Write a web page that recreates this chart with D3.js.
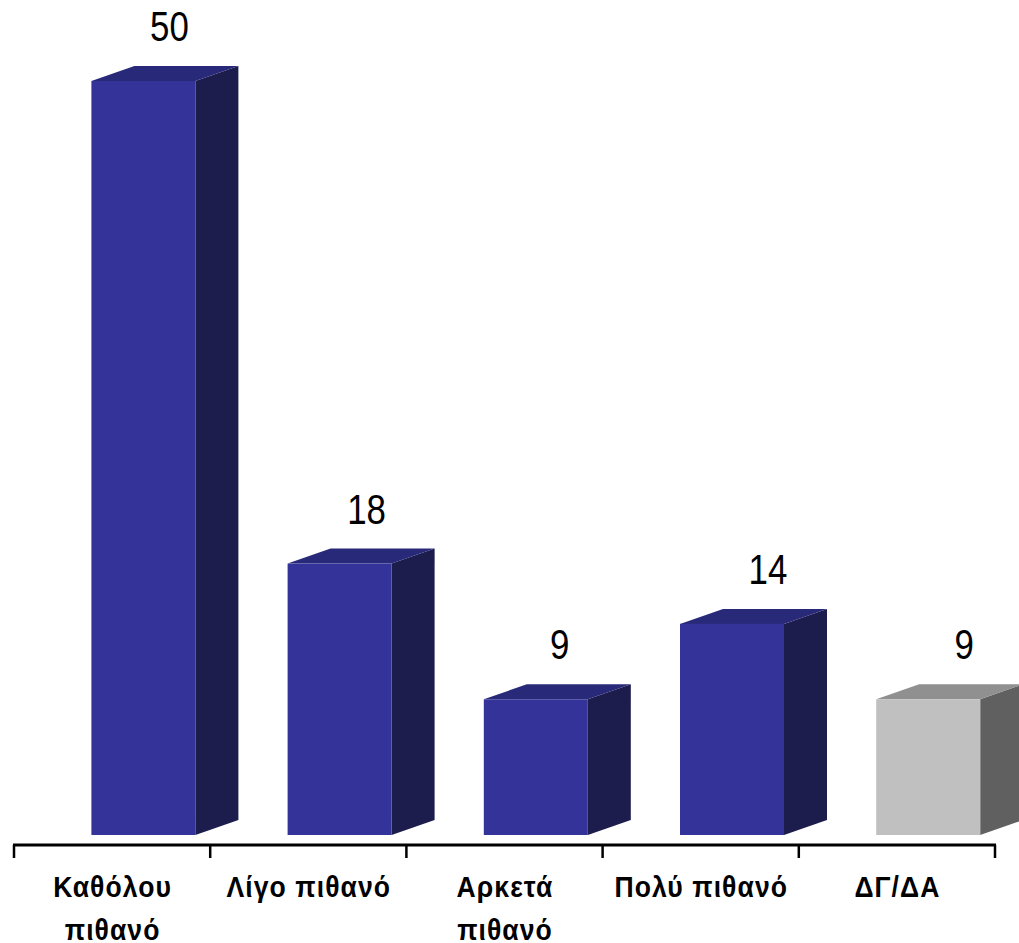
<!doctype html>
<html>
<head>
  <meta charset="utf-8">
  <title>Bar chart</title>
  <script src="https://d3js.org/d3.v7.min.js"></script>
  <style>
    body { margin:0;background:#fff;overflow:hidden; }
    svg { display:block; }
    .cat { font-family:"Liberation Sans",sans-serif;font-weight:bold;font-size:30px;letter-spacing:1.2px;text-anchor:middle;fill:#000; }
    .val { font-family:"Liberation Sans",sans-serif;font-size:42px;text-anchor:middle;fill:#000; }
  </style>
</head>
<body>
  <script>
    // chart data
    var categories = [["Καθόλου","πιθανό"],["Λίγο πιθανό"],["Αρκετά","πιθανό"],["Πολύ πιθανό"],["ΔΓ/ΔΑ"]];
    var values = [50, 18, 9, 14, 9];
    var isNoAnswer = [false, false, false, false, true];

    var width = 1019, height = 943;
    var baseY = 835, axisY = 845, tickLen = 13;
    var depthX = 43, depthY = 15;
    var labelShift = [26, 27, 24, 36, 36]; // value labels sit right of the bar centre, unevenly

    var blue = {front:"#333399", top:"#29297a", side:"#1c1c4d"};
    var grey = {front:"#c0c0c0", top:"#909090", side:"#606060"};

    var svg = d3.select("body").append("svg")
      .attr("width", width)
      .attr("height", height);

    var x = d3.scaleBand()
      .domain(d3.range(values.length))
      .range([14, 995])
      .paddingInner(0);

    var y = d3.scaleLinear()
      .domain([0, 50])
      .range([baseY, 81]);

    var barW = 104;
    var barX = function(i) { return x(i) + 77.4; };

    var bars = svg.selectAll("g.bar")
      .data(values)
      .enter()
      .append("g")
      .attr("class", "bar");

    // side face
    bars.append("path")
      .attr("fill", function(d, i) { return (isNoAnswer[i] ? grey : blue).side; })
      .attr("d", function(d, i) {
        var r = barX(i) + barW, t = y(d);
        return "M" + r + "," + t + "L" + (r + depthX) + "," + (t - depthY) +
          "L" + (r + depthX) + "," + (baseY - depthY) + "L" + r + "," + baseY + "Z";
      });

    // top face
    bars.append("path")
      .attr("fill", function(d, i) { return (isNoAnswer[i] ? grey : blue).top; })
      .attr("d", function(d, i) {
        var l = barX(i), t = y(d);
        return "M" + l + "," + t + "L" + (l + depthX) + "," + (t - depthY) +
          "L" + (l + barW + depthX) + "," + (t - depthY) + "L" + (l + barW) + "," + t + "Z";
      });

    // front face
    bars.append("rect")
      .attr("x", function(d, i) { return barX(i); })
      .attr("y", function(d) { return y(d); })
      .attr("width", barW)
      .attr("height", function(d) { return baseY - y(d); })
      .attr("fill", function(d, i) { return (isNoAnswer[i] ? grey : blue).front; });

    // value labels, squeezed since the narrow face isn't installed
    bars.append("text")
      .attr("class", "val")
      .attr("transform", function(d, i) {
        return "translate(" + (barX(i) + barW / 2 + labelShift[i]) + "," + (y(d) - depthY - 25) + ") scale(0.83,1)";
      })
      .text(function(d) { return d; });

    // axis line with ticks on the band edges
    var axis = svg.append("g").attr("stroke", "#000");
    axis.append("line")
      .attr("x1", x.range()[0] - 1).attr("x2", x.range()[1] + 1)
      .attr("y1", axisY).attr("y2", axisY)
      .attr("stroke-width", 3);
    axis.selectAll("line.tick")
      .data(d3.range(values.length + 1))
      .enter()
      .append("line")
      .attr("class", "tick")
      .attr("x1", function(i) { return x.range()[0] + i * x.step(); })
      .attr("x2", function(i) { return x.range()[0] + i * x.step(); })
      .attr("y1", axisY)
      .attr("y2", axisY + tickLen)
      .attr("stroke-width", 2.5);

    // category labels, one or two lines
    var cats = svg.selectAll("text.cat")
      .data(categories)
      .enter()
      .append("text")
      .attr("class", "cat")
      .attr("transform", function(d, i) {
        return "translate(" + (x(i) + x.bandwidth() / 2 + 0.5) + ",897) scale(0.885,1)";
      });
    cats.selectAll("tspan")
      .data(function(d) { return d; })
      .enter()
      .append("tspan")
      .attr("x", 0)
      .attr("dy", function(d, j) { return j ? 43 : 0; })
      .text(function(d) { return d; });
  </script>
</body>
</html>
